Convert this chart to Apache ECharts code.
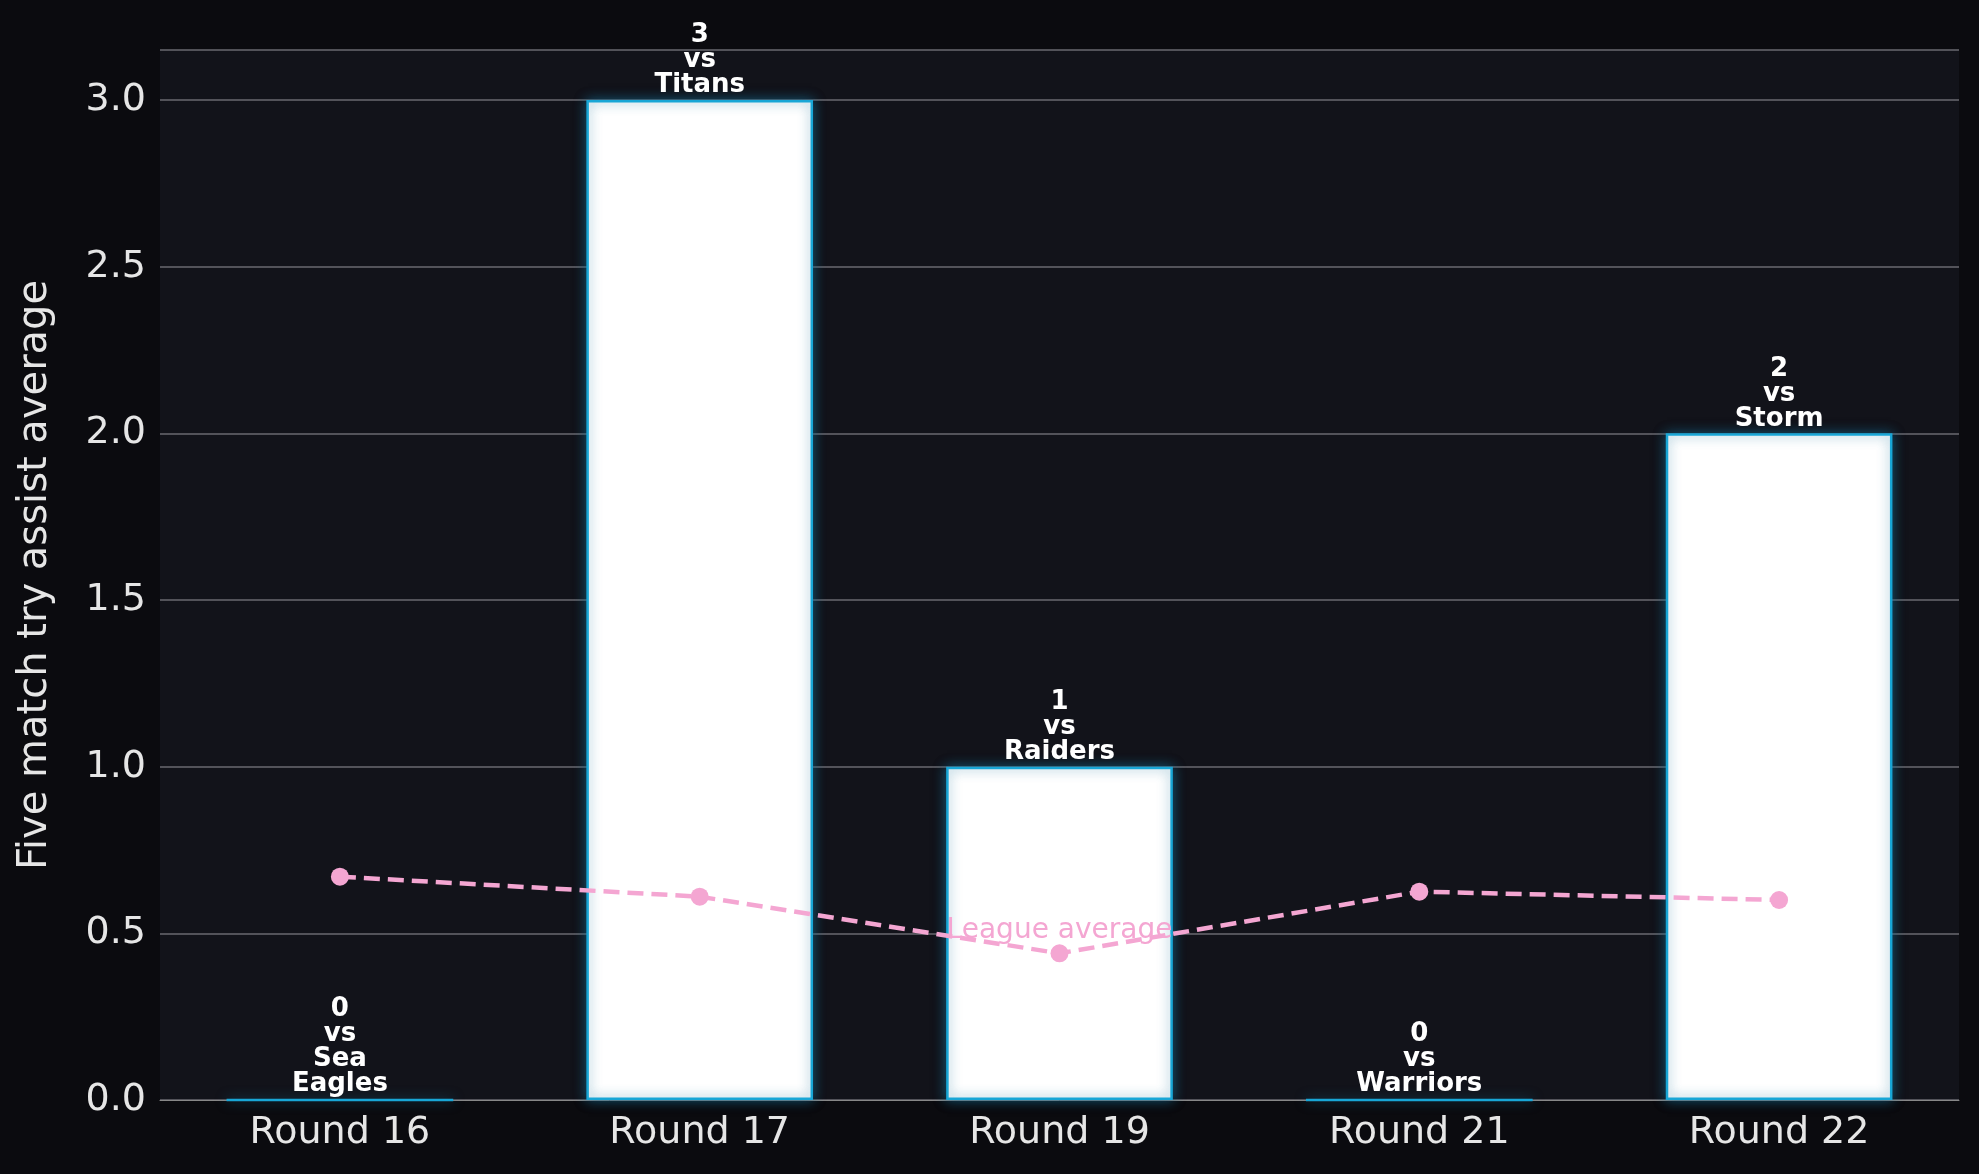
<!DOCTYPE html>
<html><head><meta charset="utf-8">
<script src="https://cdn.jsdelivr.net/npm/echarts@6/dist/echarts.min.js"></script>
<style>html,body{margin:0;background:#0b0b0f}#c{width:1979px;height:1174px}</style>
</head><body><div id="c"></div>
<script>
const categories = ['Round 16','Round 17','Round 19','Round 21','Round 22'];
const tryAssists = [0, 3, 1, 0, 2];
const opponents = ['Sea\nEagles','Titans','Raiders','Warriors','Storm'];
const leagueAvg = [0.67, 0.61, 0.44, 0.625, 0.60];
const font = 'DejaVu Sans';
const chart = echarts.init(document.getElementById('c'));
chart.setOption({
  backgroundColor: '#0b0b0f',
  animation: false,
  grid: {left: 160, right: 20, top: 50, bottom: 74, show: true, backgroundColor: '#12131a', borderWidth: 0},
  xAxis: {type: 'category', data: categories,
    axisLine: {lineStyle: {color: '#888'}}, axisTick: {show: false},
    axisLabel: {color: '#e6e6e6', fontSize: 38, fontFamily: font, margin: 14}},
  yAxis: {type: 'value', min: 0, max: 3.15, interval: 0.5,
    name: 'Five match try assist average', nameLocation: 'middle', nameGap: 104,
    nameTextStyle: {color: '#e6e6e6', fontSize: 40, fontFamily: font},
    axisLabel: {color: '#e6e6e6', fontSize: 38, fontFamily: font, margin: 14,
      formatter: v => (v > 3.01 ? '' : v.toFixed(1))},
    splitLine: {lineStyle: {color: '#6a6a70', width: 1.5}},
    axisLine: {show: false}, axisTick: {show: false}},
  series: [
    {type: 'bar', data: tryAssists, barWidth: '63%',
      itemStyle: {color: '#ffffff', borderColor: '#18a6d6', borderWidth: 2.5,
        shadowColor: 'rgba(20,110,150,0.7)', shadowBlur: 12},
      label: {show: true, position: 'top', distance: 2, color: '#fff', fontWeight: 'bold',
        fontSize: 26, lineHeight: 25, fontFamily: font,
        formatter: p => tryAssists[p.dataIndex] + '\nvs\n' + opponents[p.dataIndex]}},
    {type: 'line', data: leagueAvg, symbol: 'circle', symbolSize: 18,
      lineStyle: {color: '#f4a6d2', width: 4.5, type: [16, 8]},
      itemStyle: {color: '#f4a6d2'},
      label: {show: true, position: 'top', distance: 0, color: '#f4a6d2', fontSize: 28, fontFamily: font,
        formatter: p => p.dataIndex === 2 ? 'League average' : ''}}
  ]
});
</script></body></html>
